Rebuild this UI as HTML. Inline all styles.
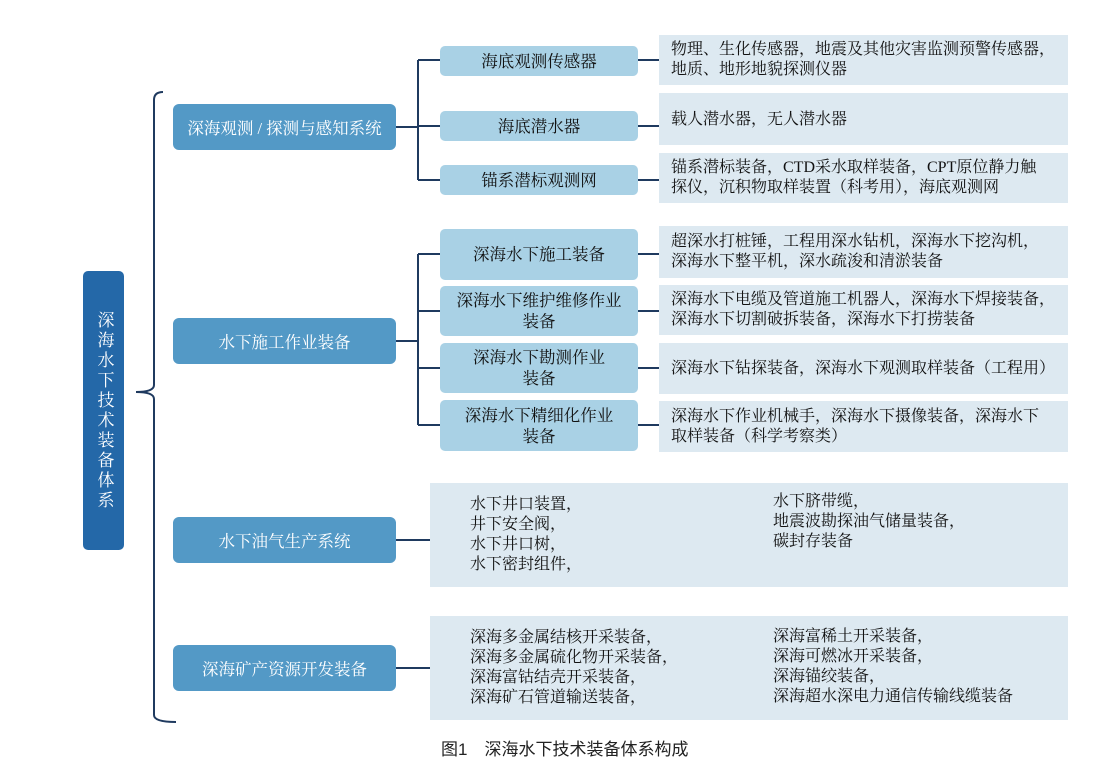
<!DOCTYPE html>
<html><head><meta charset="utf-8"><style>
body{margin:0;background:#fff;width:1118px;height:784px;position:relative;overflow:hidden;font-family:"Liberation Serif","Noto Serif CJK SC","Noto Sans CJK SC",serif;}
.a{position:absolute;box-sizing:border-box;display:flex;align-items:center;justify-content:center;text-align:center;}
.l1{background:#5399c6;color:#fff;border-radius:6px;left:173px;width:223px;font-size:16.5px;height:46px;}
.l2{background:#a9d1e5;color:#111;border-radius:5px;left:440px;width:198px;font-size:16.5px;line-height:21px;}
.d{background:#dde9f1;color:#111;left:659px;width:409px;font-size:16px;line-height:20px;justify-content:flex-start;text-align:left;padding-left:12px;white-space:nowrap;}
.g{position:absolute;font-size:16px;line-height:20px;color:#111;white-space:nowrap;}
</style></head><body>
<svg width="1118" height="784" style="position:absolute;left:0;top:0">
<g stroke="#1f3a5f" stroke-width="2" fill="none">
<path d="M163 92 Q154 92 154 100 L154 385 Q154 392 136 392 Q154 392 154 399 L154 715 Q154 722 176 722"/>
<path d="M396 127 H418 M418 60 V180 M418 60 H440 M418 126 H440 M418 180 H440"/>
<path d="M638 60 H659 M638 126 H659 M638 180 H659"/>
<path d="M396 341 H418 M418 254 V425 M418 254 H440 M418 311 H440 M418 368 H440 M418 425 H440"/>
<path d="M638 254 H659 M638 311 H659 M638 368 H659 M638 425 H659"/>
<path d="M396 540 H430 M396 668 H430"/>
</g></svg>
<div class="a" style="left:83px;top:271px;width:41px;height:279px;background:#2468a8;border-radius:5px;color:#fff;font-size:17px;line-height:20px;writing-mode:vertical-rl;letter-spacing:3px;">深海水下技术装备体系</div>
<div class="a l1" style="top:104px">深海观测 / 探测与感知系统</div>
<div class="a l1" style="top:318px">水下施工作业装备</div>
<div class="a l1" style="top:517px">水下油气生产系统</div>
<div class="a l1" style="top:645px">深海矿产资源开发装备</div>

<div class="a l2" style="top:46px;height:30px">海底观测传感器</div>
<div class="a l2" style="top:111px;height:30px">海底潜水器</div>
<div class="a l2" style="top:165px;height:30px">锚系潜标观测网</div>
<div class="a l2" style="top:229px;height:51px">深海水下施工装备</div>
<div class="a l2" style="top:286px;height:50px">深海水下维护维修作业<br>装备</div>
<div class="a l2" style="top:343px;height:50px">深海水下勘测作业<br>装备</div>
<div class="a l2" style="top:400px;height:51px">深海水下精细化作业<br>装备</div>

<div class="a d" style="top:35px;height:50px">物理、生化传感器，地震及其他灾害监测预警传感器，<br>地质、地形地貌探测仪器</div>
<div class="a d" style="top:93px;height:52px;align-items:flex-start;padding-top:17px">载人潜水器，无人潜水器</div>
<div class="a d" style="top:153px;height:50px">锚系潜标装备，CTD采水取样装备，CPT原位静力触<br>探仪，沉积物取样装置（科考用），海底观测网</div>
<div class="a d" style="top:226px;height:52px">超深水打桩锤，工程用深水钻机，深海水下挖沟机，<br>深海水下整平机，深水疏浚和清淤装备</div>
<div class="a d" style="top:285px;height:50px">深海水下电缆及管道施工机器人，深海水下焊接装备，<br>深海水下切割破拆装备，深海水下打捞装备</div>
<div class="a d" style="top:343px;height:51px">深海水下钻探装备，深海水下观测取样装备（工程用）</div>
<div class="a d" style="top:401px;height:51px">深海水下作业机械手，深海水下摄像装备，深海水下<br>取样装备（科学考察类）</div>

<div class="a" style="left:430px;top:483px;width:638px;height:104px;background:#dde9f1"></div>
<div class="g" style="left:470px;top:495px">水下井口装置，<br>井下安全阀，<br>水下井口树，<br>水下密封组件，</div>
<div class="g" style="left:773px;top:492px">水下脐带缆，<br>地震波勘探油气储量装备，<br>碳封存装备</div>
<div class="a" style="left:430px;top:616px;width:638px;height:104px;background:#dde9f1"></div>
<div class="g" style="left:470px;top:628px">深海多金属结核开采装备，<br>深海多金属硫化物开采装备，<br>深海富钴结壳开采装备，<br>深海矿石管道输送装备，</div>
<div class="g" style="left:773px;top:627px">深海富稀土开采装备，<br>深海可燃冰开采装备，<br>深海锚绞装备，<br>深海超水深电力通信传输线缆装备</div>
<div style="position:absolute;left:441px;top:735px;font-size:17px;color:#222;font-family:'Liberation Sans','Noto Sans CJK SC',sans-serif">图1　深海水下技术装备体系构成</div>
</body></html>
